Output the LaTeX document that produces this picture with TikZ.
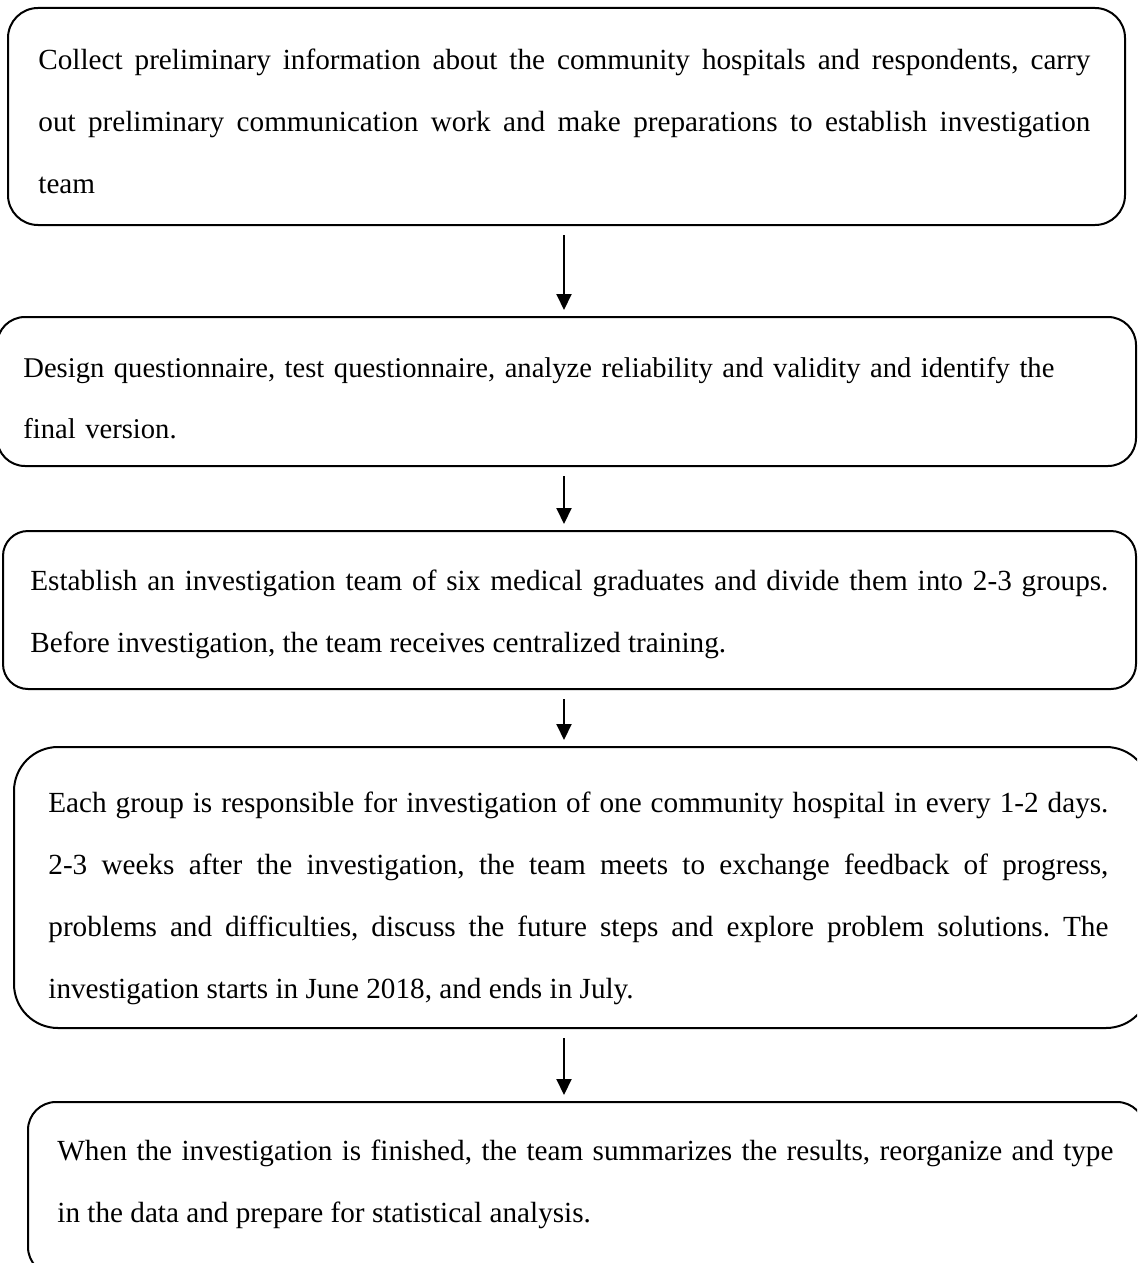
\documentclass[tikz,border=0pt]{standalone}
\usepackage{fontspec}
\setmainfont{Liberation Serif}
\usetikzlibrary{arrows.meta,fit}
\hyphenpenalty=10000\relax
\tolerance=9999\relax
\hbadness=10000\relax
\frenchspacing
\begin{document}
\begin{tikzpicture}[x=0.5pt,y=-0.5pt,
  stepbox/.style={draw=black, line width=1pt, inner sep=0pt, rectangle},
  steptext/.style={inner sep=0pt, anchor=base west,
    font=\fontsize{14.6pt}{31pt}\selectfont},
  flow/.style={-{Triangle[width=7.5pt,length=8pt]}, line width=1pt,
    shorten <=4.5pt, shorten >=3pt}]
\useasboundingbox (0,0) rectangle (1137,1263);
\clip (0,0) rectangle (1137,1263);

% step boxes
\node[stepbox, rounded corners=15pt, fit={(8,8) (1125,225)}] (b1) {};
\node[stepbox, rounded corners=14pt, fit={(-3,317) (1136,466)}] (b2) {};
\node[stepbox, rounded corners=12.5pt, fit={(3,531) (1136,689)}] (b3) {};
\node[stepbox, rounded corners=22pt, fit={(14,747) (1150,1028)}] (b4) {};
\node[stepbox, rounded corners=14pt, fit={(28,1102) (1145,1275)}] (b5) {};

% step texts
\node[steptext, text width=526pt, align=justify] (t1) at (38,70)
  {Collect preliminary information about the community hospitals and respondents, carry\linebreak
   out preliminary communication work and make preparations to establish investigation\linebreak
   team};
\node[steptext, font=\fontsize{14.3pt}{30.5pt}\selectfont, text width=545pt, align=left] (t2) at (23,377)
  {Design questionnaire, test questionnaire, analyze reliability and validity and identify the\\
   final version.};
\node[steptext, text width=539pt, align=justify] (t3) at (30,590)
  {Establish an investigation team of six medical graduates and divide them into 2-3 groups.\linebreak
   Before investigation, the team receives centralized training.};
\node[steptext, text width=530pt, align=justify] (t4) at (48,812)
  {Each group is responsible for investigation of one community hospital in every 1-2 days.\linebreak
   2-3 weeks after the investigation, the team meets to exchange feedback of progress,\linebreak
   problems and difficulties, discuss the future steps and explore problem solutions. The\linebreak
   investigation starts in June 2018, and ends in July.};
\node[steptext, text width=528pt, align=justify] (t5) at (57,1160)
  {When the investigation is finished, the team summarizes the results, reorganize and type\linebreak
   in the data and prepare for statistical analysis.};

% connectors
\coordinate (ax) at (564,0);
\draw[flow] (b1.south -| ax) -- (b2.north -| ax);
\draw[flow] (b2.south -| ax) -- (b3.north -| ax);
\draw[flow] (b3.south -| ax) -- (b4.north -| ax);
\draw[flow] (b4.south -| ax) -- (b5.north -| ax);
\end{tikzpicture}
\end{document}
